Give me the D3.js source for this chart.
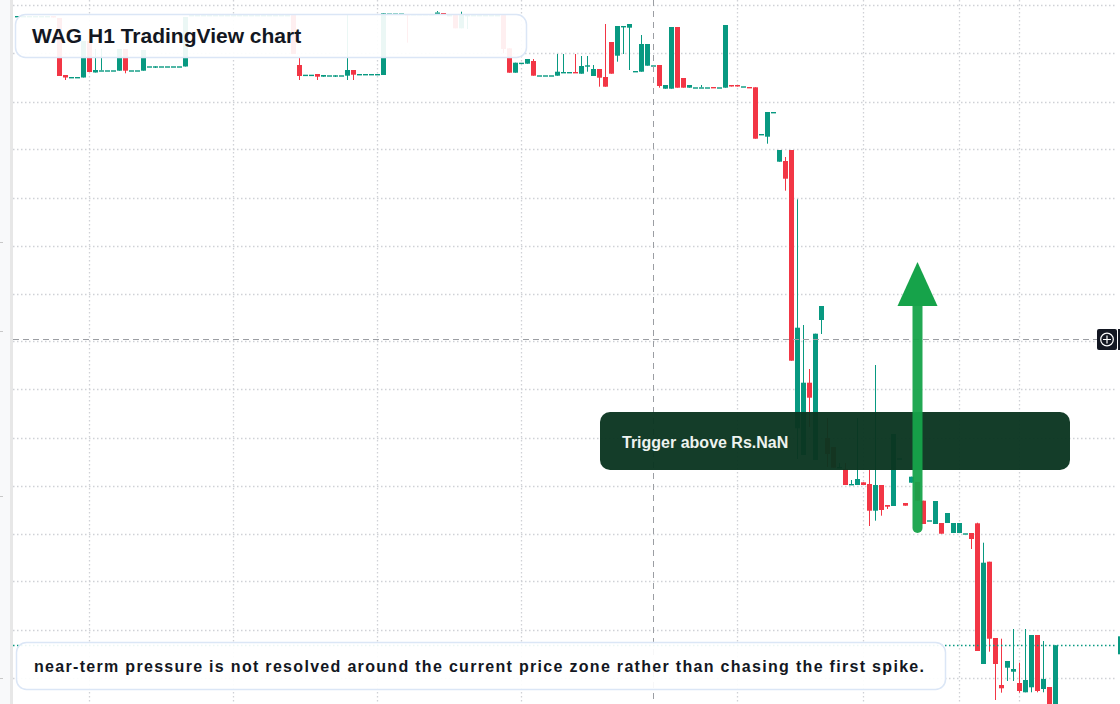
<!DOCTYPE html>
<html lang="en">
<head>
<meta charset="utf-8" />
<title>WAG H1</title>
<script src="https://d3js.org/d3.v7.min.js"></script>
<style>
  html, body { margin: 0; padding: 0; background: #fff; overflow: hidden; }
  svg { display: block; }
  text { font-family: "Liberation Sans", Arial, Helvetica, sans-serif; font-weight: bold; }
</style>
</head>
<body>
<script>
var width = 1120, height = 704;
var upColor = "#089981", downColor = "#f23645";

// hourly bars (first few sit under the title box)
var opens = [
  13.84, 13.84, 13.84, 13.84, 13.84, 13.84, 13.84, 13.82, 13.25, 13.23,
  13.23, 13.225, 13.59, 13.275, 13.297, 13.297, 13.297, 13.293, 13.51, 13.297,
  13.297, 13.293, 13.337, 13.337, 13.337, 13.337, 13.337, 13.337, 13.335, 13.85,
  13.85, 13.85, 13.85, 13.85, 13.85, 13.85, 13.85, 13.85, 13.85, 13.85,
  13.85, 13.85, 13.85, 13.85, 13.85, 13.85, 13.85, 13.35, 13.253, 13.253,
  13.26, 13.233, 13.247, 13.247, 13.247, 13.243, 13.30, 13.26, 13.26, 13.26,
  13.26, 13.25, 13.865, 13.865, 13.865, 13.86, 13.86, 13.86, 13.86, 13.86,
  13.875, 13.87, 13.85, 13.85, 13.717, 13.85, 13.85, 13.85, 13.85, 13.85,
  13.85, 13.85, 13.517, 13.273, 13.373, 13.363, 13.39, 13.247, 13.247, 13.247,
  13.243, 13.28, 13.28, 13.28, 13.263, 13.347, 13.24, 13.31, 13.23, 13.58,
  13.443, 13.74, 13.723, 13.29, 13.283, 13.343, 13.347, 13.35, 13.113, 13.113,
  13.73, 13.22, 13.123, 13.127, 13.127, 13.127, 13.13, 13.127, 13.123, 13.15,
  13.15, 13.137, 13.13, 13.127, 12.66, 12.633, 12.88, 12.383, 12.39, 12.50,
  9.717, 9.45, 10.173, 9.40, 10.80, 9.62, 9.53, 9.33, 9.31, 9.16,
  9.15, 9.177, 9.16, 8.893, 9.15, 8.95, 8.94, 9.417, 8.97, 9.173,
  9.18, 8.993, 8.797, 8.76, 8.77, 8.77, 8.67, 8.67, 8.667, 8.67,
  8.767, 7.36, 8.383, 7.62, 7.15, 7.323, 7.283, 7.17, 7.077, 7.127,
  7.65, 7.11, 7.13, 6.88
];
var highs = [
  13.84, 13.84, 13.84, 13.84, 13.84, 13.84, 13.84, 13.82, 13.25, 13.23,
  13.23, 13.59, 13.59, 13.51, 13.51, 13.297, 13.297, 13.51, 13.51, 13.297,
  13.297, 13.50, 13.337, 13.337, 13.337, 13.337, 13.337, 13.337, 13.83, 13.85,
  13.85, 13.85, 13.85, 13.85, 13.85, 13.85, 13.85, 13.85, 13.85, 13.85,
  13.85, 13.85, 13.85, 13.85, 13.85, 13.85, 13.85, 13.42, 13.253, 13.253,
  13.26, 13.25, 13.247, 13.247, 13.247, 13.85, 13.30, 13.26, 13.26, 13.26,
  13.26, 13.867, 13.865, 13.865, 13.865, 13.86, 13.86, 13.86, 13.86, 13.86,
  13.89, 13.87, 13.85, 13.85, 13.883, 13.85, 13.85, 13.85, 13.85, 13.85,
  13.85, 13.85, 13.517, 13.373, 13.373, 13.41, 13.41, 13.247, 13.247, 13.247,
  13.46, 13.46, 13.28, 13.46, 13.44, 13.44, 13.35, 13.31, 13.76, 13.58,
  13.74, 13.74, 13.76, 13.29, 13.65, 13.56, 13.347, 13.35, 13.15, 13.73,
  13.73, 13.22, 13.15, 13.127, 13.15, 13.127, 13.13, 13.127, 13.75, 13.15,
  13.15, 13.137, 13.13, 13.127, 12.66, 12.88, 12.88, 12.50, 12.43, 12.50,
  12.007, 10.75, 10.31, 10.663, 10.94, 9.82, 9.53, 9.37, 9.37, 9.20,
  9.82, 9.177, 9.30, 10.35, 9.15, 8.95, 9.66, 9.417, 8.97, 9.233,
  9.18, 8.993, 8.797, 8.99, 8.77, 8.87, 8.77, 8.77, 8.667, 8.67,
  8.773, 8.573, 8.383, 7.62, 7.613, 7.39, 7.71, 7.373, 7.71, 7.65,
  7.65, 7.59, 7.13, 7.547
];
var lows = [
  13.84, 13.84, 13.84, 13.84, 13.84, 13.84, 13.825, 13.24, 13.20, 13.23,
  13.23, 13.225, 13.28, 13.275, 13.297, 13.297, 13.297, 13.293, 13.267, 13.297,
  13.297, 13.293, 13.337, 13.32, 13.337, 13.337, 13.337, 13.337, 13.335, 13.85,
  13.85, 13.85, 13.85, 13.85, 13.85, 13.85, 13.85, 13.85, 13.85, 13.85,
  13.85, 13.85, 13.85, 13.85, 13.85, 13.85, 13.46, 13.20, 13.253, 13.253,
  13.20, 13.233, 13.247, 13.23, 13.247, 13.20, 13.20, 13.26, 13.26, 13.26,
  13.26, 13.25, 13.865, 13.865, 13.865, 13.573, 13.86, 13.86, 13.86, 13.86,
  13.875, 13.86, 13.85, 13.717, 13.717, 13.71, 13.85, 13.85, 13.85, 13.85,
  13.85, 13.467, 13.273, 13.273, 13.373, 13.363, 13.243, 13.247, 13.247, 13.247,
  13.243, 13.28, 13.28, 13.273, 13.263, 13.283, 13.24, 13.133, 13.133, 13.263,
  13.383, 13.46, 13.30, 13.29, 13.283, 13.343, 13.347, 13.123, 13.113, 13.113,
  13.123, 13.123, 13.123, 13.127, 13.127, 13.127, 13.123, 13.127, 13.123, 13.135,
  13.135, 13.137, 13.123, 12.613, 12.66, 12.563, 12.88, 12.383, 12.093, 10.393,
  9.41, 9.45, 9.73, 9.40, 10.66, 9.33, 9.323, 9.33, 9.15, 9.16,
  9.15, 9.15, 8.74, 8.793, 8.843, 8.91, 8.94, 9.417, 8.943, 9.173,
  8.993, 8.76, 8.797, 8.76, 8.663, 8.77, 8.67, 8.67, 8.667, 8.51,
  7.49, 7.36, 7.483, 7.00, 7.073, 7.19, 7.19, 7.073, 7.077, 7.077,
  7.077, 7.077, 6.88, 6.88
];
var closes = [
  13.84, 13.84, 13.84, 13.84, 13.84, 13.84, 13.825, 13.24, 13.225, 13.23,
  13.23, 13.59, 13.28, 13.30, 13.297, 13.297, 13.297, 13.51, 13.293, 13.297,
  13.297, 13.50, 13.337, 13.337, 13.337, 13.337, 13.337, 13.337, 13.83, 13.85,
  13.85, 13.85, 13.85, 13.85, 13.85, 13.85, 13.85, 13.85, 13.85, 13.85,
  13.85, 13.85, 13.85, 13.85, 13.85, 13.85, 13.46, 13.24, 13.253, 13.253,
  13.233, 13.25, 13.247, 13.247, 13.247, 13.30, 13.253, 13.26, 13.26, 13.26,
  13.26, 13.867, 13.865, 13.865, 13.865, 13.85, 13.86, 13.86, 13.86, 13.86,
  13.875, 13.86, 13.85, 13.717, 13.85, 13.85, 13.85, 13.85, 13.85, 13.85,
  13.85, 13.51, 13.273, 13.373, 13.373, 13.41, 13.243, 13.247, 13.247, 13.247,
  13.283, 13.28, 13.28, 13.273, 13.34, 13.347, 13.31, 13.223, 13.133, 13.263,
  13.74, 13.74, 13.76, 13.29, 13.56, 13.56, 13.347, 13.14, 13.15, 13.73,
  13.123, 13.123, 13.15, 13.127, 13.127, 13.127, 13.123, 13.127, 13.75, 13.135,
  13.135, 13.137, 13.123, 12.613, 12.66, 12.88, 12.88, 12.50, 12.213, 10.393,
  10.723, 10.173, 10.023, 10.663, 10.94, 9.46, 9.323, 9.33, 9.15, 9.16,
  9.21, 9.15, 8.893, 9.15, 8.90, 8.933, 9.66, 9.417, 8.943, 9.233,
  8.993, 8.76, 8.797, 8.99, 8.663, 8.87, 8.77, 8.77, 8.667, 8.61,
  7.49, 8.373, 7.613, 7.36, 7.117, 7.39, 7.31, 7.09, 7.20, 7.65,
  7.09, 7.21, 6.88, 7.547
];

// horizontal grid prices and the bars where the time grid falls
var gridPrices = [13.945, 13.465, 12.985, 12.505, 12.025, 11.545, 11.065, 10.585,
                  10.105, 9.625, 9.145, 8.665, 8.185, 7.705, 7.225];
var gridBars = [12, 36, 60, 84, 120, 141, 157, 167];
var crossBar = 106, crossPrice = 10.615;
var arrowBar = 150, arrowFrom = 8.72, arrowTo = 11.38;

var titleText = "WAG H1 TradingView chart";
var triggerText = "Trigger above Rs.NaN";
var noteText = "near-term pressure is not resolved around the current price zone rather than chasing the first spike.";

var bars = opens.map(function (o, i) {
  return { i: i, o: o, h: highs[i], l: lows[i], c: closes[i] };
});

var plotLeft = 13, plotRight = 1116;

var x = d3.scaleLinear().domain([0, opens.length - 1]).range([17.3, 17.3 + 6 * (opens.length - 1)]);
var y = d3.scaleLinear().domain([7, 14]).range([700, 0]);

var svg = d3.select("body").append("svg")
  .attr("width", width)
  .attr("height", height);

svg.append("rect").attr("width", width).attr("height", height).attr("fill", "#fff");

// left pane edge
svg.append("rect").attr("x", 0).attr("y", 0).attr("width", 10).attr("height", height).attr("fill", "#f8f9fa");
svg.append("rect").attr("x", 10).attr("y", 0).attr("width", 3).attr("height", height).attr("fill", "#e7e7e7");
svg.selectAll(".edgetick")
  .data([242, 331, 496, 678])
  .enter().append("rect")
  .attr("x", 0).attr("y", function (d) { return d; })
  .attr("width", 3).attr("height", 1).attr("fill", "#c8c8c8");

// grid
var grid = svg.append("g");
grid.selectAll(".hg")
  .data(gridPrices)
  .enter().append("line")
  .attr("x1", plotLeft).attr("x2", plotRight)
  .attr("y1", function (d) { return Math.round(y(d)) + 0.5; })
  .attr("y2", function (d) { return Math.round(y(d)) + 0.5; })
  .attr("stroke", "#cfd1d6").attr("stroke-width", 1.3)
  .attr("stroke-dasharray", "1.5 2.5");

grid.selectAll(".vg")
  .data(gridBars)
  .enter().append("line")
  .attr("x1", function (d) { return Math.round(x(d)) + 0.5; })
  .attr("x2", function (d) { return Math.round(x(d)) + 0.5; })
  .attr("y1", 0).attr("y2", height)
  .attr("stroke", "#cfd1d6").attr("stroke-width", 1.3)
  .attr("stroke-dasharray", "1.5 2.5");

// candles
var candles = svg.append("g").selectAll("g")
  .data(bars)
  .enter().append("g")
  .attr("fill", function (d) { return d.c >= d.o ? upColor : downColor; })
  .attr("stroke", function (d) { return d.c >= d.o ? upColor : downColor; });

candles.append("line")
  .attr("x1", function (d) { return Math.round(x(d.i) - 2.5) + 2.5; })
  .attr("x2", function (d) { return Math.round(x(d.i) - 2.5) + 2.5; })
  .attr("y1", function (d) { return y(d.h); })
  .attr("y2", function (d) { return y(d.l); })
  .attr("stroke-width", 1);

candles.append("rect")
  .attr("stroke", "none")
  .attr("x", function (d) { return Math.round(x(d.i) - 2.5); })
  .attr("width", 5)
  .attr("y", function (d) { return y(Math.max(d.o, d.c)); })
  .attr("height", function (d) { return Math.max(y(Math.min(d.o, d.c)) - y(Math.max(d.o, d.c)), 1.4); });

// crosshair
svg.append("line")
  .attr("x1", plotLeft).attr("x2", 1097)
  .attr("y1", Math.round(y(crossPrice)) + 0.5).attr("y2", Math.round(y(crossPrice)) + 0.5)
  .attr("stroke", "#9b9ea3").attr("stroke-width", 1)
  .attr("stroke-dasharray", "6 4");
svg.append("line")
  .attr("x1", Math.round(x(crossBar)) + 0.5).attr("x2", Math.round(x(crossBar)) + 0.5)
  .attr("y1", 0).attr("y2", height)
  .attr("stroke", "#9b9ea3").attr("stroke-width", 1)
  .attr("stroke-dasharray", "6 5");

// last price line
var lastPrice = closes[closes.length - 1];
svg.append("line")
  .attr("x1", plotLeft).attr("x2", plotRight)
  .attr("y1", Math.round(y(lastPrice)) + 0.5).attr("y2", Math.round(y(lastPrice)) + 0.5)
  .attr("stroke", upColor).attr("stroke-width", 1.4)
  .attr("stroke-dasharray", "1.5 2.5");
svg.append("rect")
  .attr("x", 1118).attr("y", y(lastPrice) - 9).attr("width", 2).attr("height", 18)
  .attr("fill", upColor);

// crosshair price label (cut at the edge)
var cy = Math.round(y(crossPrice)) + 0.5;
svg.append("rect")
  .attr("x", 1097).attr("y", cy - 10.5).attr("width", 20).attr("height", 21).attr("rx", 2)
  .attr("fill", "#131722");
svg.append("rect")
  .attr("x", 1118).attr("y", cy - 10.5).attr("width", 2).attr("height", 21)
  .attr("fill", "#131722");
svg.append("circle")
  .attr("cx", 1107).attr("cy", cy).attr("r", 6.3)
  .attr("fill", "none").attr("stroke", "#fff").attr("stroke-width", 1.2);
svg.append("path")
  .attr("d", "M1103," + cy + "H1111M1107," + (cy - 4) + "V" + (cy + 4))
  .attr("stroke", "#fff").attr("stroke-width", 1.2);

// title box
svg.append("rect")
  .attr("x", 15.5).attr("y", 14.5).attr("width", 511).attr("height", 43).attr("rx", 10)
  .attr("fill", "#fff").attr("fill-opacity", 0.92)
  .attr("stroke", "#dbe6f6").attr("stroke-width", 1.5);
svg.append("text")
  .attr("x", 32).attr("y", 43)
  .attr("font-size", 21).attr("fill", "#131722")
  .text(titleText);

// note box
svg.append("rect")
  .attr("x", 16.5).attr("y", 642.5).attr("width", 929).attr("height", 47).attr("rx", 10)
  .attr("fill", "#fff").attr("fill-opacity", 0.92)
  .attr("stroke", "#dbe6f6").attr("stroke-width", 1.5);
svg.append("text")
  .attr("x", 34).attr("y", 672)
  .attr("font-size", 16).attr("fill", "#131722")
  .attr("textLength", 890).attr("lengthAdjust", "spacing")
  .text(noteText);

// trigger box
svg.append("rect")
  .attr("x", 600).attr("y", 412).attr("width", 470).attr("height", 58).attr("rx", 10)
  .attr("fill", "#0a3520").attr("fill-opacity", 0.96);
svg.append("text")
  .attr("x", 622).attr("y", 448)
  .attr("font-size", 16).attr("fill", "#eef3ef")
  .text(triggerText);

// arrow
var ax = Math.round(x(arrowBar)) + 0.5;
svg.append("line")
  .attr("x1", ax).attr("x2", ax)
  .attr("y1", y(arrowFrom)).attr("y2", y(arrowTo) + 40)
  .attr("stroke", "#16a34a").attr("stroke-width", 10)
  .attr("stroke-linecap", "round").attr("stroke-opacity", 0.95);
svg.append("path")
  .attr("d", "M" + ax + "," + y(arrowTo) + "L" + (ax + 20) + "," + (y(arrowTo) + 44) +
             "L" + (ax - 20) + "," + (y(arrowTo) + 44) + "Z")
  .attr("fill", "#16a34a");
</script>
</body>
</html>
